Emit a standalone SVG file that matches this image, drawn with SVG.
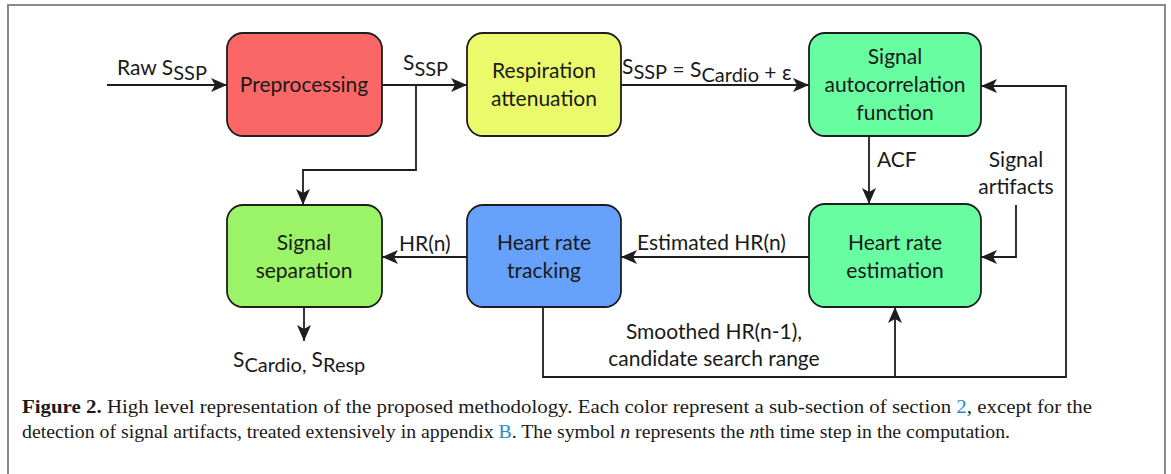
<svg xmlns="http://www.w3.org/2000/svg" width="1171" height="474" viewBox="0 0 1171 474">
<style>
.box{stroke:#1e1e1e;stroke-width:1.8}
.lbl{font-family:Lato,"Open Sans",sans-serif;font-size:21px;fill:#1a1a1a}
.ctr{text-anchor:middle}
.sub{font-size:20px}
.conn path{fill:none;stroke:#1e1e1e;stroke-width:1.8}
.cap{font-family:"Liberation Serif",serif;font-size:18px;fill:#1a1a1a}
.lnk{fill:#2a88c8}
</style>
<defs>
<marker id="ah" markerUnits="userSpaceOnUse" markerWidth="18" markerHeight="16" refX="16" refY="7" orient="auto">
<path d="M0,0 L16,7 L0,14 L4,7 Z" fill="#1e1e1e"/>
</marker>
</defs>
<rect x="0" y="0" width="1171" height="474" fill="#fff"/>
<rect x="8" y="5" width="1157" height="480" fill="none" stroke="#8a8a8a" stroke-width="2"/>

<g id="n-preprocessing">
<rect class="box" x="227" y="33" width="155" height="103" rx="16" fill="#fb6767"/>
<text class="lbl ctr" x="304" y="92">Preprocessing</text>
</g>
<g id="n-respiration">
<rect class="box" x="467" y="33" width="154" height="103" rx="16" fill="#ebfa6b"/>
<text class="lbl ctr" x="544" y="78">Respiration</text>
<text class="lbl ctr" x="544" y="106">attenuation</text>
</g>
<g id="n-autocorr">
<rect class="box" x="809" y="33" width="172" height="103" rx="16" fill="#68fda0"/>
<text class="lbl ctr" x="895" y="64">Signal</text>
<text class="lbl ctr" x="895" y="92">autocorrelation</text>
<text class="lbl ctr" x="895" y="120">function</text>
</g>
<g id="n-hrest">
<rect class="box" x="809" y="204" width="172" height="103" rx="16" fill="#68fda0"/>
<text class="lbl ctr" x="895" y="250">Heart rate</text>
<text class="lbl ctr" x="895" y="278">estimation</text>
</g>
<g id="n-hrtrack">
<rect class="box" x="467" y="205" width="154" height="102" rx="16" fill="#66a1fb"/>
<text class="lbl ctr" x="544" y="250">Heart rate</text>
<text class="lbl ctr" x="544" y="278">tracking</text>
</g>
<g id="n-separation">
<rect class="box" x="227" y="205" width="155" height="102" rx="16" fill="#9bf467"/>
<text class="lbl ctr" x="304" y="250">Signal</text>
<text class="lbl ctr" x="304" y="278">separation</text>
</g>

<g id="connectors" class="conn">
<path d="M107,85 H227" marker-end="url(#ah)"/>
<path d="M382,85 H467" marker-end="url(#ah)"/>
<path d="M416,85 V170 H303 V205" marker-end="url(#ah)"/>
<path d="M621,85 H809" marker-end="url(#ah)"/>
<path d="M869,136 V204" marker-end="url(#ah)"/>
<path d="M1016,205 V257 H981" marker-end="url(#ah)"/>
<path d="M809,257 H621" marker-end="url(#ah)"/>
<path d="M467,257 H382" marker-end="url(#ah)"/>
<path d="M304,307 V341" marker-end="url(#ah)"/>
<path d="M543,307 V377 H1066 V86 H981" marker-end="url(#ah)"/>
<path d="M895,377 V307" marker-end="url(#ah)"/>
</g>

<g id="labels">
<text class="lbl" x="117" y="75">Raw S<tspan class="sub" dy="5">SSP</tspan></text>
<text class="lbl" x="403" y="70">S<tspan class="sub" dy="6">SSP</tspan></text>
<text class="lbl" x="622" y="74">S<tspan class="sub" dy="5">SSP</tspan><tspan dy="-2"> = S</tspan><tspan class="sub" dy="5">Cardio</tspan><tspan dy="-2"> + ε</tspan></text>
<text class="lbl" x="877" y="167">ACF</text>
<text class="lbl ctr" x="1016" y="167">Signal</text>
<text class="lbl ctr" x="1016" y="194">artifacts</text>
<text class="lbl" x="637" y="250">Estimated HR(n)</text>
<text class="lbl" x="399" y="251">HR(n)</text>
<text class="lbl ctr" x="714" y="339">Smoothed HR(n-1),</text>
<text class="lbl ctr" x="714" y="366">candidate search range</text>
<text class="lbl" x="233" y="367">S<tspan class="sub" dy="5">Cardio, </tspan><tspan dy="-5">S</tspan><tspan class="sub" dy="5">Resp</tspan></text>
</g>

<g id="caption" class="cap">
<text x="22" y="413" textLength="1070" lengthAdjust="spacingAndGlyphs"><tspan font-weight="bold">Figure 2.</tspan> High level representation of the proposed methodology. Each color represent a sub-section of section <tspan class="lnk">2</tspan>, except for the</text>
<text x="22" y="438" textLength="988" lengthAdjust="spacingAndGlyphs">detection of signal artifacts, treated extensively in appendix <tspan class="lnk">B</tspan>. The symbol <tspan font-style="italic">n</tspan> represents the <tspan font-style="italic">n</tspan>th time step in the computation.</text>
</g>
</svg>
